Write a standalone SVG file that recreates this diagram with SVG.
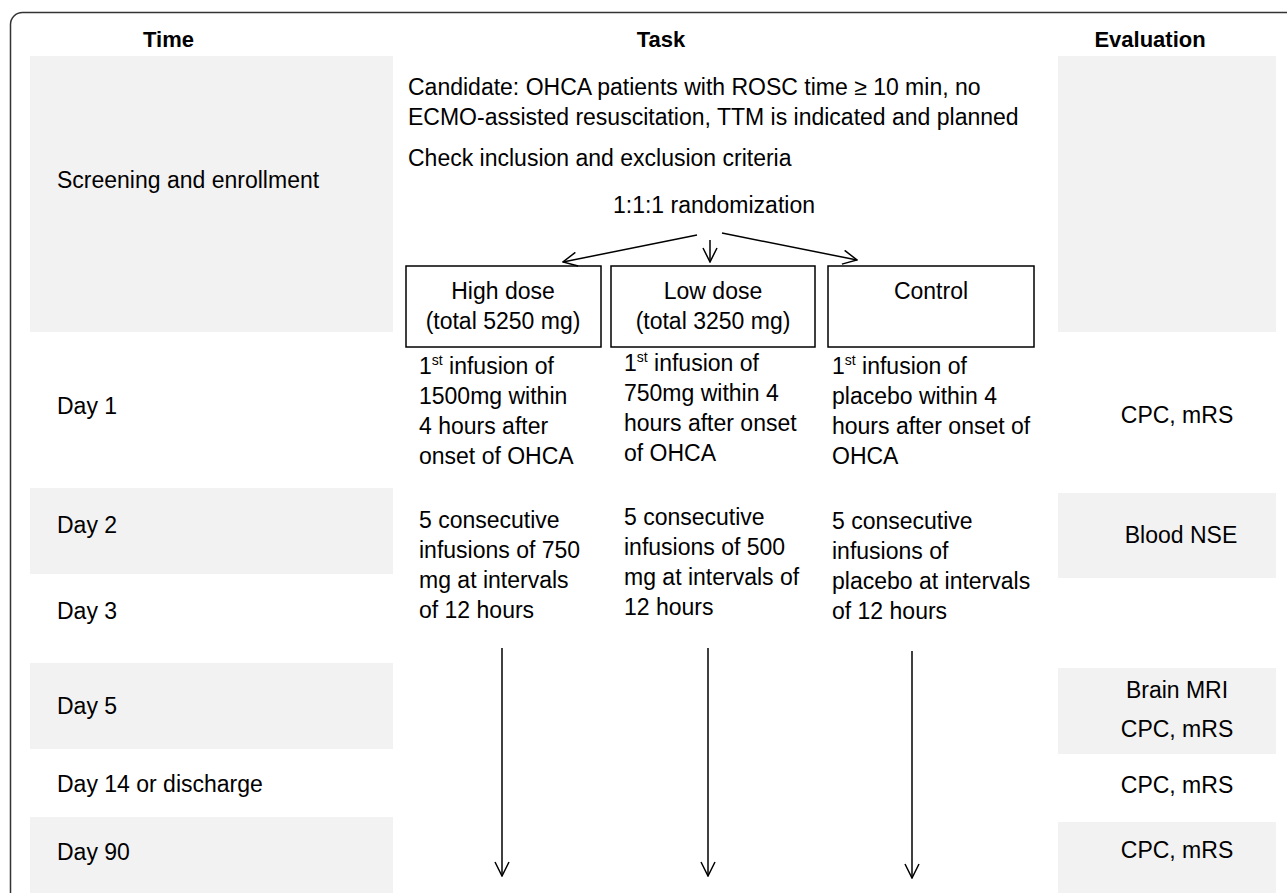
<svg xmlns="http://www.w3.org/2000/svg" width="1287" height="893" viewBox="0 0 1287 893">
<defs>
<style>
text{font-family:"Liberation Sans",Arial,sans-serif;font-size:23px;fill:#000}
.h{font-weight:bold;font-size:22px;text-anchor:middle}
.c{text-anchor:middle}
.band{fill:#f2f2f2}
.box{fill:#fff;stroke:#000;stroke-width:1.5}
.conn{stroke:#000;stroke-width:1.5;fill:none}
.sup{font-size:14px}
</style>
<marker id="arr" viewBox="0 0 16 16" refX="15" refY="8" markerWidth="16" markerHeight="16" markerUnits="userSpaceOnUse" orient="auto">
<path d="M1,1 L15,8 L1,15" fill="none" stroke="#000" stroke-width="1.5"/>
</marker>
</defs>
<rect width="1287" height="893" fill="#fff"/>
<rect x="10.5" y="12.5" width="1300" height="900" rx="12" fill="none" stroke="#333" stroke-width="1.5"/>

<g id="headers">
<text class="h" x="168.5" y="47">Time</text>
<text class="h" x="661" y="47">Task</text>
<text class="h" x="1150" y="47">Evaluation</text>
</g>

<g id="time-column">
<rect class="band" x="30" y="56" width="363" height="276"/>
<rect class="band" x="30" y="488" width="363" height="86"/>
<rect class="band" x="30" y="663" width="363" height="86"/>
<rect class="band" x="30" y="817" width="363" height="80"/>
<text x="57" y="188">Screening and enrollment</text>
<text x="57" y="414">Day 1</text>
<text x="57" y="533">Day 2</text>
<text x="57" y="619">Day 3</text>
<text x="57" y="714">Day 5</text>
<text x="57" y="792">Day 14 or discharge</text>
<text x="57" y="860">Day 90</text>
</g>

<g id="eval-column">
<rect class="band" x="1058" y="56" width="218" height="276"/>
<rect class="band" x="1058" y="493" width="218" height="85"/>
<rect class="band" x="1058" y="668" width="218" height="86"/>
<rect class="band" x="1058" y="822" width="218" height="75"/>
<text class="c" x="1177" y="423">CPC, mRS</text>
<text class="c" x="1181" y="543">Blood NSE</text>
<text class="c" x="1177" y="698">Brain MRI</text>
<text class="c" x="1177" y="737">CPC, mRS</text>
<text class="c" x="1177" y="793">CPC, mRS</text>
<text class="c" x="1177" y="858">CPC, mRS</text>
</g>

<g id="screening">
<text x="408" y="95">Candidate: OHCA patients with ROSC time ≥ 10 min, no</text>
<text x="408" y="125">ECMO-assisted resuscitation, TTM is indicated and planned</text>
<text x="408" y="166">Check inclusion and exclusion criteria</text>
<text class="c" x="714" y="213">1:1:1 randomization</text>
</g>

<g id="high-dose">
<rect class="box" x="406" y="266" width="195" height="81"/>
<text class="c" x="503" y="299">High dose</text>
<text class="c" x="503" y="329">(total 5250 mg)</text>
<text x="419" y="374">1<tspan class="sup" dy="-9">st</tspan><tspan dy="9"> infusion of</tspan></text>
<text x="419" y="404">1500mg within</text>
<text x="419" y="434">4 hours after</text>
<text x="419" y="464">onset of OHCA</text>
<text x="419" y="528">5 consecutive</text>
<text x="419" y="558">infusions of 750</text>
<text x="419" y="588">mg at intervals</text>
<text x="419" y="618">of 12 hours</text>
</g>

<g id="low-dose">
<rect class="box" x="611" y="266" width="204" height="81"/>
<text class="c" x="713" y="299">Low dose</text>
<text class="c" x="713" y="329">(total 3250 mg)</text>
<text x="624" y="371">1<tspan class="sup" dy="-9">st</tspan><tspan dy="9"> infusion of</tspan></text>
<text x="624" y="401">750mg within 4</text>
<text x="624" y="431">hours after onset</text>
<text x="624" y="461">of OHCA</text>
<text x="624" y="525">5 consecutive</text>
<text x="624" y="555">infusions of 500</text>
<text x="624" y="585">mg at intervals of</text>
<text x="624" y="615">12 hours</text>
</g>

<g id="control">
<rect class="box" x="828" y="266" width="206" height="81"/>
<text class="c" x="931" y="299">Control</text>
<text x="832" y="374">1<tspan class="sup" dy="-9">st</tspan><tspan dy="9"> infusion of</tspan></text>
<text x="832" y="404">placebo within 4</text>
<text x="832" y="434">hours after onset of</text>
<text x="832" y="464">OHCA</text>
<text x="832" y="529">5 consecutive</text>
<text x="832" y="559">infusions of</text>
<text x="832" y="589">placebo at intervals</text>
<text x="832" y="619">of 12 hours</text>
</g>

<g id="connectors">
<line class="conn" x1="697" y1="235" x2="563" y2="262" marker-end="url(#arr)"/>
<line class="conn" x1="710" y1="240" x2="710" y2="262" marker-end="url(#arr)"/>
<line class="conn" x1="722" y1="233" x2="857" y2="260" marker-end="url(#arr)"/>
<line class="conn" x1="502" y1="648" x2="502" y2="876" marker-end="url(#arr)"/>
<line class="conn" x1="708" y1="648" x2="708" y2="876" marker-end="url(#arr)"/>
<line class="conn" x1="912" y1="651" x2="912" y2="878" marker-end="url(#arr)"/>
</g>
</svg>
